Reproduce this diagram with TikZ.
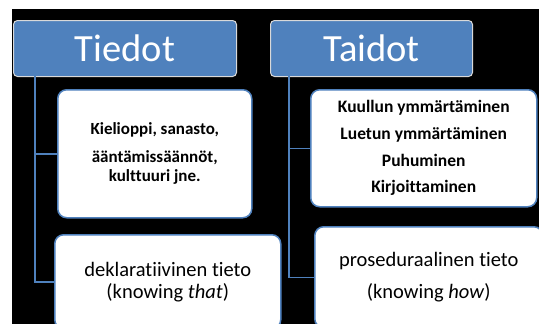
\documentclass[tikz,border=0pt]{standalone}
\usepackage{fontspec}
\setmainfont[Ligatures=NoCommon]{Carlito}
\definecolor{hdrblue}{HTML}{4F81BD}
\definecolor{lineblue}{HTML}{4F81BD}
\begin{document}
\begin{tikzpicture}[x=1pt,y=-1pt,
  hdr/.style={draw=white!85!black, line width=1pt, fill=hdrblue, rounded corners=4pt,
    text=white, font={\fontsize{38.5}{40}\selectfont}, inner sep=0pt, anchor=north west},
  card/.style={draw=lineblue, line width=1.5pt, fill=white, rounded corners=9pt,
    text=black, align=center, inner sep=0pt, anchor=north west},
  conn/.style={draw=lineblue, line width=1.5pt}]
\useasboundingbox (0,0) rectangle (539,324);
\fill[white] (0,0) rectangle (539,324);
\fill[black] (12,9) rectangle (539,324);
\begin{scope}
\clip (12,9) rectangle (539,324);
% headers
\node[hdr, minimum width=223pt, minimum height=56pt] (tiedot) at (13,20) {Tiedot};
\node[hdr, minimum width=202pt, minimum height=56pt] (taidot) at (270,20) {Taidot};
% cards
\node[card, minimum width=194pt, minimum height=128pt,
  font={\bfseries\fontsize{17}{19.5}\selectfont}] (kieli) at (57,89)
  {Kielioppi, sanasto,\\[8pt]ääntämissäännöt,\\kulttuuri jne.};
\node[card, minimum width=226pt, minimum height=94pt,
  font={\fontsize{20.5}{22}\selectfont}] (dekl) at (54,234)
  {deklaratiivinen tieto\\(knowing \textit{that})};
\node[card, minimum width=226pt, minimum height=117pt,
  font={\bfseries\fontsize{17.5}{26.7}\selectfont}] (kuul) at (310,89)
  {Kuullun ymmärtäminen\\Luetun ymmärtäminen\\Puhuminen\\Kirjoittaminen};
\node[card, minimum width=228pt, minimum height=101pt,
  font={\fontsize{20.5}{32}\selectfont}] (prose) at (314,226)
  {proseduraalinen tieto\\(knowing \textit{how})};
% connectors
\coordinate (cl) at (35,76);
\coordinate (cr) at (289,76);
\draw[conn] (cl) |- (dekl.west);
\draw[conn] (cl |- kieli.west) -- (kieli.west);
\draw[conn] (cr) |- (prose.west);
\draw[conn] (cr |- kuul.west) -- (kuul.west);
\end{scope}
\end{tikzpicture}
\end{document}
